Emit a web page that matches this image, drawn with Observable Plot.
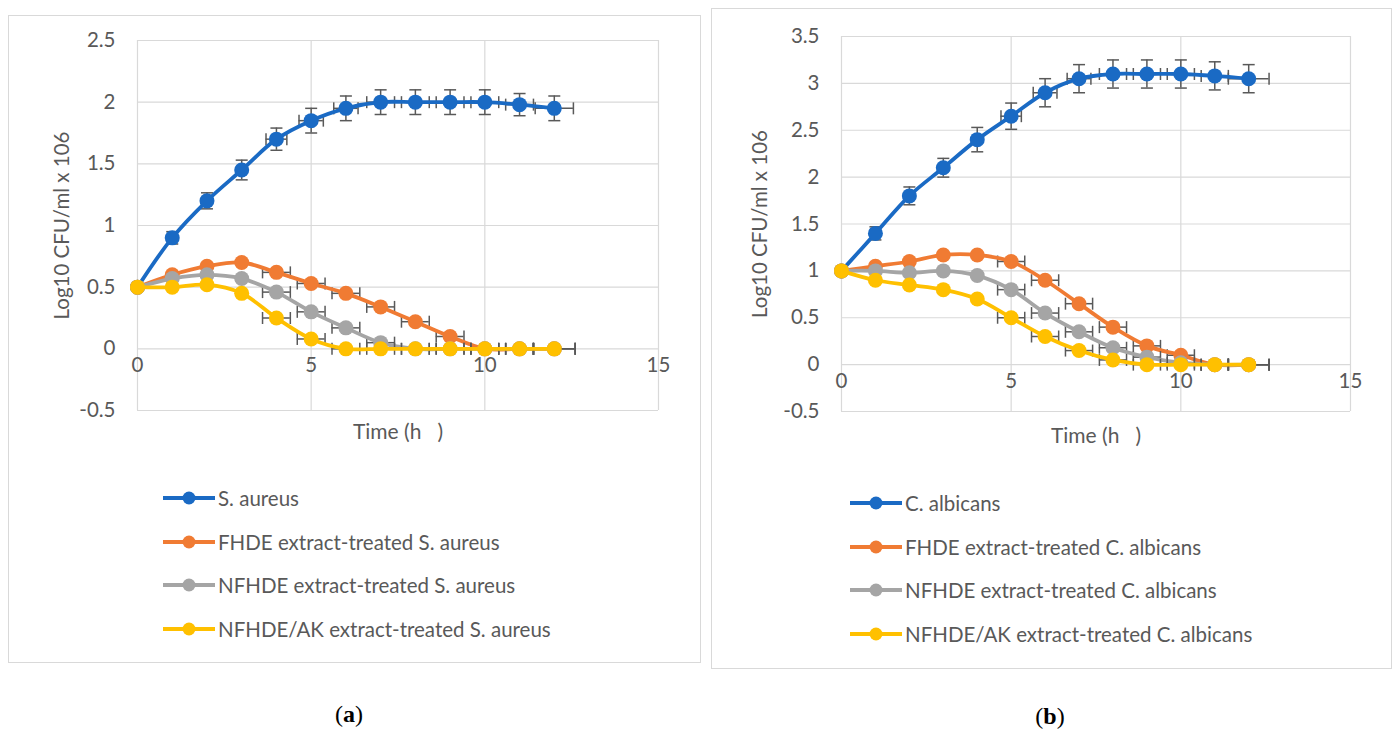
<!DOCTYPE html>
<html>
<head>
<meta charset="utf-8">
<script src="https://cdn.jsdelivr.net/npm/d3@7"></script>
<script src="https://cdn.jsdelivr.net/npm/@observablehq/plot@0.6"></script>
<style>
  html, body { margin: 0; padding: 0; background: #fff; }
  body { width: 1392px; height: 732px; position: relative; overflow: hidden; font-family: Lato, "Open Sans", sans-serif; color: #595959; }
  .panel { position: absolute; border: 1px solid #d9d9d9; box-sizing: border-box; background: #fff; }
  .panel svg.plot { position: absolute; left: 0; top: 0; }
  .legend { position: absolute; }
  .item { position: absolute; display: flex; align-items: center; white-space: nowrap; font-size: 20.5px; color: #595959; }
  .item svg { margin-right: 3px; }
  .cap { position: absolute; font-family: "Liberation Serif", "DejaVu Serif", serif; font-size: 24px; color: #000; transform: translateX(-50%); }
</style>
</head>
<body>
<div id="pa" class="panel" style="left:8px;top:15px;width:693px;height:648px;"></div>
<div id="pb" class="panel" style="left:711px;top:8px;width:681px;height:661px;"></div>
<div class="cap" style="left:349px;top:701px;">(<b>a</b>)</div>
<div class="cap" style="left:1050px;top:703px;">(<b>b</b>)</div>
<script>
// ---------- data ----------
const hours = [0, 1, 2, 3, 4, 5, 6, 7, 8, 9, 10, 11, 12];
const xTicks = [0, 5, 10, 15];
const yTicksA = [-0.5, 0, 0.5, 1, 1.5, 2, 2.5];
const yTicksB = [-0.5, 0, 0.5, 1, 1.5, 2, 2.5, 3, 3.5];
const yTitle = "Log10 CFU/ml x 106";
const xTitle = "Time (h\u00a0\u00a0\u00a0)";

const namesA = ["S. aureus", "FHDE extract-treated S. aureus", "NFHDE extract-treated S. aureus", "NFHDE/AK extract-treated S. aureus"];
const namesB = ["C. albicans", "FHDE extract-treated C. albicans", "NFHDE extract-treated C. albicans", "NFHDE/AK extract-treated C. albicans"];
const colors = ["#1a6ac4", "#f07b33", "#a5a5a5", "#ffc000"];

// Panel (a) S. aureus
const aCtrl   = [0.5, 0.9, 1.2, 1.45, 1.7, 1.85, 1.95, 2.0, 2.0, 2.0, 2.0, 1.98, 1.95];
const aFHDE   = [0.5, 0.6, 0.67, 0.7, 0.62, 0.53, 0.45, 0.34, 0.22, 0.1, 0, 0, 0];
const aNFHDE  = [0.5, 0.57, 0.6, 0.57, 0.46, 0.3, 0.17, 0.05, 0, 0, 0, 0, 0];
const aNFHDEAK= [0.5, 0.5, 0.52, 0.45, 0.25, 0.08, 0, 0, 0, 0, 0, 0, 0];
const aCtrlEy = [0, 0.05, 0.065, 0.08, 0.09, 0.1, 0.1, 0.1, 0.1, 0.1, 0.1, 0.09, 0.1];
const aCtrlEx = [0, 0, 0, 0, 0.3, 0.35, 0.35, 0.4, 0.4, 0.4, 0.4, 0.4, 0.55];
const aTrtEy  = [0, 0.02, 0.02, 0.02, 0.02, 0.02, 0.02, 0.02, 0.02, 0.02, 0.02, 0.02, 0.02];
const aTrtEx  = [0, 0, 0, 0, 0.4, 0.4, 0.4, 0.4, 0.4, 0.4, 0.4, 0.4, 0.6];

// Panel (b) C. albicans
const bCtrl   = [1.0, 1.4, 1.8, 2.1, 2.4, 2.65, 2.9, 3.05, 3.1, 3.1, 3.1, 3.08, 3.05];
const bFHDE   = [1.0, 1.05, 1.1, 1.17, 1.17, 1.1, 0.9, 0.65, 0.4, 0.2, 0.1, 0, 0];
const bNFHDE  = [1.0, 1.0, 0.98, 1.0, 0.95, 0.8, 0.55, 0.35, 0.18, 0.08, 0.02, 0, 0];
const bNFHDEAK= [1.0, 0.9, 0.85, 0.8, 0.7, 0.5, 0.3, 0.15, 0.05, 0, 0, 0, 0];
const bCtrlEy = [0, 0.07, 0.095, 0.1, 0.13, 0.14, 0.15, 0.15, 0.15, 0.15, 0.15, 0.15, 0.15];
const bCtrlEx = [0, 0, 0, 0, 0, 0.3, 0.35, 0.35, 0.4, 0.4, 0.4, 0.4, 0.6];
const bTrtEy  = [0, 0.02, 0.02, 0.02, 0.02, 0.02, 0.02, 0.02, 0.02, 0.02, 0.02, 0.02, 0.02];
const bTrtEx  = [0, 0, 0, 0, 0, 0.4, 0.4, 0.4, 0.4, 0.4, 0.4, 0.4, 0.6];

// ---------- helpers ----------
const hcap = {draw(ctx, size) { const r = Math.sqrt(size / Math.PI); ctx.moveTo(-r, 0); ctx.lineTo(r, 0); }};
const vcap = {draw(ctx, size) { const r = Math.sqrt(size / Math.PI); ctx.moveTo(0, -r); ctx.lineTo(0, r); }};
const errColor = "#595959";
const FONT = "Lato, 'Open Sans', sans-serif";

function rows(values, ey, ex) {
  return hours.map((t, i) => ({t, v: values[i], ey: ey[i], ex: ex[i]}));
}

function seriesMarks(data, color) {
  const withY = data.filter(d => d.ey > 0);
  const withX = data.filter(d => d.ex > 0);
  return [
    Plot.ruleX(withY, {x: "t", y1: d => d.v - d.ey, y2: d => d.v + d.ey, stroke: errColor, strokeWidth: 1.5}),
    Plot.ruleY(withX, {y: "v", x1: d => d.t - d.ex, x2: d => d.t + d.ex, stroke: errColor, strokeWidth: 1.5}),
    Plot.dot(withY, {x: "t", y: d => d.v - d.ey, symbol: hcap, r: 6, stroke: errColor, fill: "none", strokeWidth: 1.5}),
    Plot.dot(withY, {x: "t", y: d => d.v + d.ey, symbol: hcap, r: 6, stroke: errColor, fill: "none", strokeWidth: 1.5}),
    Plot.dot(withX, {x: d => d.t - d.ex, y: "v", symbol: vcap, r: 6, stroke: errColor, fill: "none", strokeWidth: 1.5}),
    Plot.dot(withX, {x: d => d.t + d.ex, y: "v", symbol: vcap, r: 6, stroke: errColor, fill: "none", strokeWidth: 1.5}),
    Plot.line(data, {x: "t", y: "v", stroke: color, strokeWidth: 3.8, curve: "catmull-rom"}),
    Plot.dot(data, {x: "t", y: "v", r: 7.5, fill: color, stroke: "none"})
  ];
}

function makePanel(el, cfg) {
  const series = cfg.series;
  const chart = Plot.plot({
    width: cfg.width, height: cfg.height,
    marginLeft: cfg.ml, marginRight: cfg.mr, marginTop: cfg.mt, marginBottom: cfg.mb,
    style: {fontFamily: FONT, color: "#595959", background: "transparent", overflow: "visible"},
    x: {domain: [0, 15], axis: null},
    y: {domain: [cfg.yTicks[0], cfg.yTicks[cfg.yTicks.length - 1]]},
    marks: [
      Plot.gridX(xTicks, {stroke: "#d9d9d9", strokeOpacity: 1, strokeWidth: 1.2}),
      Plot.gridY(cfg.yTicks, {stroke: "#d9d9d9", strokeOpacity: 1, strokeWidth: 1.2}),
      Plot.axisY(cfg.yTicks, {tickSize: 0, tickPadding: 22, tickFormat: d => String(d), fontSize: 20.5, fill: "#595959", label: null}),
      Plot.text(xTicks, {x: d => d, y: () => 0, text: d => String(d), dy: 17, fontSize: 20.5, fill: "#595959", lineAnchor: "middle"}),
      Plot.text([yTitle], {frameAnchor: "left", text: d => d, rotate: -90, dx: cfg.ytdx, textAnchor: "middle", lineAnchor: "middle", fontSize: 20.5, fill: "#595959"}),
      Plot.text([xTitle], {frameAnchor: "bottom", text: d => d, dy: cfg.xtdy, textAnchor: "middle", lineAnchor: "middle", fontSize: 21, fill: "#595959"}),
      ...series.flatMap(s => seriesMarks(s.data, s.color))
    ]
  });
  chart.classList.add("plot");
  el.appendChild(chart);

  const legend = document.createElement("div");
  legend.className = "legend";
  el.appendChild(legend);
  series.forEach((s, i) => {
    const item = document.createElement("div");
    item.className = "item";
    item.style.left = cfg.legX + "px";
    item.style.top = (cfg.legY + i * cfg.legStep - 12) + "px";
    item.style.height = "24px";
    item.innerHTML = `<svg width="52" height="16"><line x1="0" x2="52" y1="8" y2="8" stroke="${s.color}" stroke-width="3.8"/><circle cx="26" cy="8" r="6.5" fill="${s.color}"/></svg><span>${s.name}</span>`;
    legend.appendChild(item);
  });
}

makePanel(document.getElementById("pa"), {
  width: 691, height: 440, ml: 128, mr: 42, mt: 24, mb: 46,
  yTicks: yTicksA, ytdx: -75, xtdy: 22,
  legX: 154, legY: 482, legStep: 43.5,
  series: [
    {name: namesA[0], color: colors[0], data: rows(aCtrl, aCtrlEy, aCtrlEx)},
    {name: namesA[1], color: colors[1], data: rows(aFHDE, aTrtEy, aTrtEx)},
    {name: namesA[2], color: colors[2], data: rows(aNFHDE, aTrtEy, aTrtEx)},
    {name: namesA[3], color: colors[3], data: rows(aNFHDEAK, aTrtEy, aTrtEx)}
  ]
});

makePanel(document.getElementById("pb"), {
  width: 679, height: 450, ml: 129, mr: 41, mt: 27, mb: 48,
  yTicks: yTicksB, ytdx: -81, xtdy: 25,
  legX: 138, legY: 494, legStep: 43.7,
  series: [
    {name: namesB[0], color: colors[0], data: rows(bCtrl, bCtrlEy, bCtrlEx)},
    {name: namesB[1], color: colors[1], data: rows(bFHDE, bTrtEy, bTrtEx)},
    {name: namesB[2], color: colors[2], data: rows(bNFHDE, bTrtEy, bTrtEx)},
    {name: namesB[3], color: colors[3], data: rows(bNFHDEAK, bTrtEy, bTrtEx)}
  ]
});
</script>
</body>
</html>
